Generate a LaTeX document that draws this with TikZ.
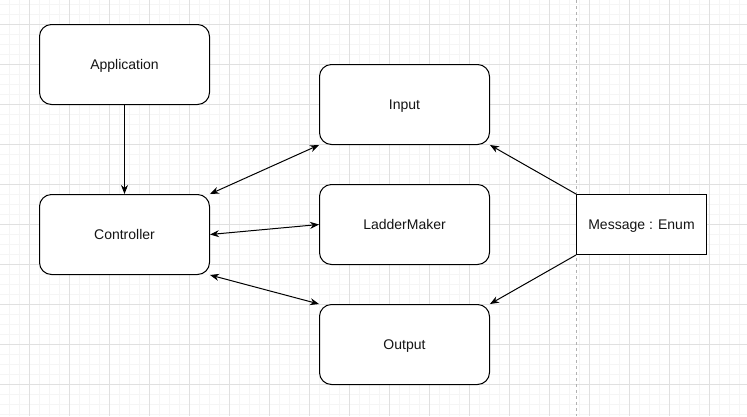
\documentclass[tikz,border=0pt]{standalone}
\usepackage{fontspec}
\setmainfont{Liberation Sans}
\usepackage{tikz}
\usetikzlibrary{arrows.meta,positioning}
\definecolor{mygridminor}{RGB}{245,245,245}
\definecolor{mygridmajor}{RGB}{224,224,224}
\definecolor{mytext}{RGB}{20,20,20}
\tikzstyle{block}=[draw,rectangle,rounded corners=12pt,minimum width=170pt,minimum height=80pt,inner sep=0pt,text height=10.5pt,text depth=1.5pt,fill=white,text=mytext,font=\fontsize{14}{16}\selectfont]
\tikzstyle{plainblock}=[block,rounded corners=0pt,minimum width=130pt,minimum height=60pt]
\tikzstyle{link}=[-{Stealth[length=9pt,width=7pt]}]
\tikzstyle{dlink}=[{Stealth[length=9pt,width=7pt]}-{Stealth[length=9pt,width=7pt]}]

\begin{document}
\begin{tikzpicture}[x=1pt,y=-1pt,line width=1pt]
\useasboundingbox (0,0) rectangle (747,416);
\fill[white] (0,0) rectangle (747,416);
\foreach \x in {9.5,19.5,...,739.5}
  \draw[mygridminor] (\x,0) -- (\x,416);
\foreach \y in {4.5,14.5,...,414.5}
  \draw[mygridminor] (0,\y) -- (747,\y);
\foreach \x in {29.5,69.5,...,709.5}
  \draw[mygridmajor] (\x,0) -- (\x,416);
\foreach \y in {24.5,64.5,...,384.5}
  \draw[mygridmajor] (0,\y) -- (747,\y);
\draw[black!30,dash pattern=on 3pt off 3pt] (576.5,0) -- (576.5,416);

\node[block] (app) at (124.5,64.5) {Application};
\node[block] (ctrl) at (124.5,234.5) {Controller};
\node[block] (in) at (404.5,104.5) {Input};
\node[block] (lad) at (404.5,224.5) {LadderMaker};
\node[block] (out) at (404.5,344.5) {Output};
\node[plainblock] (msg) at (641.5,224.5) {Message : Enum};

\draw[link] (app.south) -- (ctrl.north);
\draw[dlink] (ctrl.north east) -- (in.south west);
\draw[dlink] (ctrl.east) -- (lad.west);
\draw[dlink] (ctrl.south east) -- (out.north west);
\draw[link] (msg.north west) -- (in.south east);
\draw[link] (msg.south west) -- (out.north east);
\end{tikzpicture}
\end{document}
